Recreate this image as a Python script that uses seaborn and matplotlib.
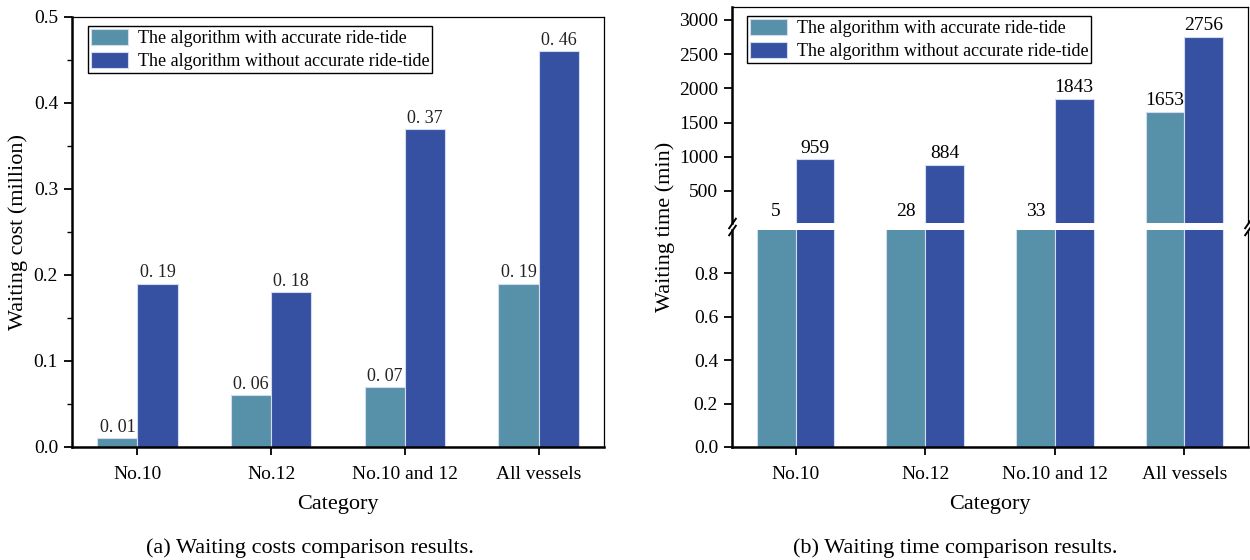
import matplotlib
matplotlib.use("Agg")
import matplotlib.pyplot as plt
from matplotlib.patches import Patch
from matplotlib.ticker import MultipleLocator, FormatStrFormatter
import seaborn as sns
import pandas as pd

# ---- data -------------------------------------------------------------
categories = ["No.10", "No.12", "No.10 and 12", "All vessels"]
methods = ["The algorithm with accurate ride-tide",
           "The algorithm without accurate ride-tide"]
cost_with = [0.01, 0.06, 0.07, 0.19]        # million
cost_without = [0.19, 0.18, 0.37, 0.46]     # million
time_with = [5, 28, 33, 1653]               # min
time_without = [959, 884, 1843, 2756]       # min

TEAL = "#5790A9"
BLUE = "#3751A2"
palette = [TEAL, BLUE]


def long_frame(a, b):
    rows = []
    for cat, va, vb in zip(categories, a, b):
        rows.append((cat, methods[0], va))
        rows.append((cat, methods[1], vb))
    return pd.DataFrame(rows, columns=["category", "method", "value"])


cost_df = long_frame(cost_with, cost_without)
time_df = long_frame(time_with, time_without)

sns.set_style("ticks", {"axes.edgecolor": "black", "xtick.color": "black",
                        "ytick.color": "black", "text.color": "black",
                        "axes.labelcolor": "black"})
plt.rcParams["font.family"] = ["Liberation Serif", "DejaVu Serif"]

fig = plt.figure(figsize=(12.5, 5.6), dpi=100)
ax_a = fig.add_axes([0.0576, 0.2018, 0.4256, 0.768])
ax_up = fig.add_axes([0.5856, 0.6018, 0.4128, 0.3857])
ax_lo = fig.add_axes([0.5856, 0.2018, 0.4128, 0.3875])

bar_kw = dict(x="category", y="value", hue="method", order=categories,
              hue_order=methods, palette=palette, width=0.6, gap=0,
              saturation=1, edgecolor="#d3dbee", linewidth=0.8,
              errorbar=None, legend=False)

THICK, THIN = 1.8, 0.9
TICK_FS = 14


def legend(ax, anchor):
    handles = [Patch(facecolor=c, edgecolor="#d3dbee", linewidth=0.8)
               for c in palette]
    leg = ax.legend(handles, methods, loc="upper left", bbox_to_anchor=anchor,
                    borderaxespad=0, fontsize=13, frameon=True, fancybox=False,
                    framealpha=1, edgecolor="black", handlelength=2.05,
                    handleheight=1.0, handletextpad=0.55, labelspacing=0.28,
                    borderpad=0.15)
    leg.get_frame().set_linewidth(1.0)


# ---- (a) waiting cost --------------------------------------------------
sns.barplot(data=cost_df, ax=ax_a, **bar_kw)
ax_a.set_xlim(-0.49, 3.49)
ax_a.set_ylim(0, 0.5)
ax_a.yaxis.set_major_locator(MultipleLocator(0.1))
ax_a.yaxis.set_minor_locator(MultipleLocator(0.05))
ax_a.yaxis.set_major_formatter(FormatStrFormatter("%.1f"))
ax_a.set_xlabel("")
ax_a.set_ylabel("")
for side in ("left", "bottom"):
    ax_a.spines[side].set_linewidth(THICK)
for side in ("top", "right"):
    ax_a.spines[side].set_linewidth(THIN)
ax_a.tick_params(axis="both", which="major", direction="out", length=6,
                 width=1.3, labelsize=TICK_FS, pad=4)
ax_a.tick_params(axis="y", which="minor", direction="out", length=3.5,
                 width=1.0)
ax_a.tick_params(axis="x", pad=8)

for cont, vals in zip(ax_a.containers, [cost_with, cost_without]):
    ax_a.bar_label(cont, labels=[f"{v:.2f}".replace(".", ". ") for v in vals],
                   padding=1.5, fontsize=13, color="#222222")
legend(ax_a, (0.030, 0.979))

# ---- (b) waiting time, broken y axis -----------------------------------
LO_TOP = 1.0
UP_BOTTOM, UP_TOP = 30, 3190

sns.barplot(data=time_df, ax=ax_up, **bar_kw)
sns.barplot(data=time_df, ax=ax_lo, **bar_kw)

for ax in (ax_up, ax_lo):
    ax.set_xlim(-0.49, 3.49)
    ax.set_xlabel("")
    ax.set_ylabel("")
    ax.spines["left"].set_linewidth(THICK)
    ax.spines["right"].set_linewidth(THIN)
    ax.tick_params(axis="both", which="major", direction="out", length=6,
                   width=1.3, labelsize=TICK_FS, pad=4)

ax_up.set_ylim(UP_BOTTOM, UP_TOP)
ax_up.set_yticks([500, 1000, 1500, 2000, 2500, 3000])
ax_up.spines["bottom"].set_visible(False)
ax_up.spines["top"].set_linewidth(THIN)
ax_up.tick_params(axis="x", bottom=False, labelbottom=False)

ax_lo.set_ylim(0, LO_TOP)
ax_lo.set_yticks([0.0, 0.2, 0.4, 0.6, 0.8])
ax_lo.yaxis.set_major_formatter(FormatStrFormatter("%.1f"))
ax_lo.spines["top"].set_visible(False)
ax_lo.spines["bottom"].set_linewidth(THICK)
ax_lo.tick_params(axis="x", pad=8)

# value labels sit on the bar top, or on the break when the bar is shorter
for cont, vals in zip(ax_up.containers, [time_with, time_without]):
    for patch, v in zip(cont.patches, vals):
        xc = patch.get_x() + patch.get_width() / 2
        ax_up.annotate(f"{v}", xy=(xc, max(patch.get_height(), UP_BOTTOM)),
                       xytext=(0, 2), textcoords="offset points",
                       ha="center", va="bottom", fontsize=14,
                       annotation_clip=False)
legend(ax_up, (0.029, 0.958))

# break marks on both vertical spines
slash = [(-0.7, -1), (0.7, 1)]
mk = dict(marker=slash, markersize=8, linestyle="none", color="k", mec="k",
          mew=1.4, clip_on=False)
ax_up.plot([0, 1], [0, 0], transform=ax_up.transAxes, **mk)
ax_lo.plot([0, 1], [1, 1], transform=ax_lo.transAxes, **mk)

# ---- axis titles and captions ------------------------------------------
fig.text(18 / 1250, 1 - 232 / 560, "Waiting cost (million)", rotation=90,
         ha="center", va="center", fontsize=16)
fig.text(665 / 1250, 1 - 227 / 560, "Waiting time (min)", rotation=90,
         ha="center", va="center", fontsize=16)
fig.text(338 / 1250, 1 - 505 / 560, "Category", ha="center", va="center",
         fontsize=16)
fig.text(990 / 1250, 1 - 505 / 560, "Category", ha="center", va="center",
         fontsize=16)
fig.text(310 / 1250, 1 - 548 / 560, "(a) Waiting costs comparison results.",
         ha="center", va="center", fontsize=16)
fig.text(955 / 1250, 1 - 548 / 560, "(b) Waiting time comparison results.",
         ha="center", va="center", fontsize=16)

fig.savefig("out.png", dpi=100)
